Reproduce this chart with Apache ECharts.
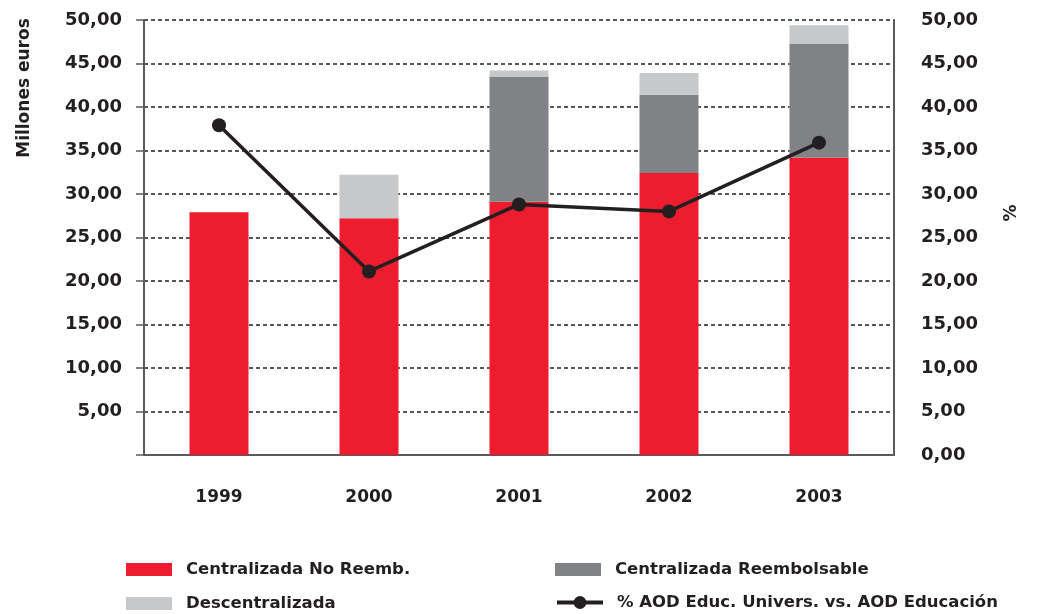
<!DOCTYPE html>
<html>
<head>
<meta charset="utf-8">
<script src="https://cdn.jsdelivr.net/npm/echarts@6/dist/echarts.min.js"></script>
<style>html,body{margin:0;padding:0;background:#fff}#c{width:1043px;height:614px}</style>
</head>
<body>
<div id="c"></div>
<script>
const years = ['1999', '2000', '2001', '2002', '2003'];
const centralNoReemb = [27.9, 27.2, 29.1, 32.4, 34.2];
const centralReemb = [0, 0, 14.4, 9.0, 13.1];
const descentralizada = [0, 5.0, 0.7, 2.5, 2.1];
const pctAOD = [37.9, 21.1, 28.8, 28.0, 35.9];
const leftTicks = { min: 0, max: 50, interval: 5 };
const rightTicks = { min: 0, max: 50, interval: 5 };
const seriesNames = ['Centralizada No Reemb.', 'Centralizada Reembolsable', 'Descentralizada', '% AOD Educ. Univers. vs. AOD Educación'];

const FONT = 'DejaVu Sans';
const TXT = '#231f20';
const fmt = v => v.toFixed(2).replace('.', ',');

function legendItem(name, left, top, icon) {
  const l = {
    left: left, top: top, orient: 'horizontal',
    itemWidth: 46, itemHeight: 13, itemGap: 0,
    data: [name],
    textStyle: { fontFamily: FONT, fontWeight: 'bold', fontSize: 16.5, color: TXT, padding: [0, 0, 0, 9] }
  };
  if (icon) l.icon = icon;
  else {
    l.lineStyle = { width: 4, color: '#231f20' };
    l.itemHeight = 16;
  }
  return l;
}

const chart = echarts.init(document.getElementById('c'), null, { renderer: 'canvas' });
chart.setOption({
  backgroundColor: '#ffffff',
  animation: false,
  textStyle: { fontFamily: FONT },
  grid: { left: 144, right: 149, top: 20, bottom: 159, containLabel: false },
  legend: [
    legendItem(seriesNames[0], 121, 556, 'rect'),
    legendItem(seriesNames[2], 121, 590, 'rect'),
    legendItem(seriesNames[1], 550, 556, 'rect'),
    legendItem(seriesNames[3], 550, 589, null)
  ],
  xAxis: {
    type: 'category',
    data: years,
    axisLine: { show: true, lineStyle: { color: '#58595b', width: 2 } },
    axisTick: { show: false },
    axisLabel: { margin: 34, fontFamily: FONT, fontWeight: 'bold', fontSize: 17, color: TXT }
  },
  yAxis: [
    {
      type: 'value', min: leftTicks.min, max: leftTicks.max, interval: leftTicks.interval,
      axisLine: { show: true, lineStyle: { color: '#58595b', width: 2 } },
      axisTick: { show: true, length: 8, lineStyle: { color: '#58595b', width: 1.5 } },
      axisLabel: {
        margin: 22, fontFamily: FONT, fontWeight: 'bold', fontSize: 18, color: TXT,
        formatter: v => (v === 0 ? '' : fmt(v))
      },
      splitLine: { show: true, lineStyle: { color: '#231f20', width: 1.6, type: [4, 3] } }
    },
    {
      type: 'value', min: rightTicks.min, max: rightTicks.max, interval: rightTicks.interval,
      position: 'right',
      axisLine: { show: true, lineStyle: { color: '#58595b', width: 2 } },
      axisTick: { show: false },
      axisLabel: { margin: 27, fontFamily: FONT, fontWeight: 'bold', fontSize: 18, color: TXT, formatter: v => fmt(v) },
      splitLine: { show: false }
    }
  ],
  graphic: [
    {
      type: 'text', x: 25, y: 88, rotation: Math.PI / 2,
      style: { text: 'Millones euros', fontFamily: FONT, fontWeight: 'bold', fontSize: 17, fill: TXT, align: 'center', verticalAlign: 'middle' }
    },
    {
      type: 'text', x: 1012, y: 213, rotation: Math.PI / 2,
      style: { text: '%', fontFamily: FONT, fontWeight: 'bold', fontSize: 17, fill: TXT, align: 'center', verticalAlign: 'middle' }
    }
  ],
  series: [
    {
      name: seriesNames[0], type: 'bar', stack: 'a', barWidth: 59,
      itemStyle: { color: '#ed1c2e' }, data: centralNoReemb
    },
    {
      name: seriesNames[1], type: 'bar', stack: 'a', barWidth: 59,
      itemStyle: { color: '#808285' }, data: centralReemb
    },
    {
      name: seriesNames[2], type: 'bar', stack: 'a', barWidth: 59,
      itemStyle: { color: '#c7c8ca' }, data: descentralizada
    },
    {
      name: seriesNames[3], type: 'line', yAxisIndex: 1,
      symbol: 'circle', symbolSize: 14,
      itemStyle: { color: '#231f20' },
      lineStyle: { color: '#231f20', width: 3.5 },
      data: pctAOD
    }
  ]
});
</script>
</body>
</html>
